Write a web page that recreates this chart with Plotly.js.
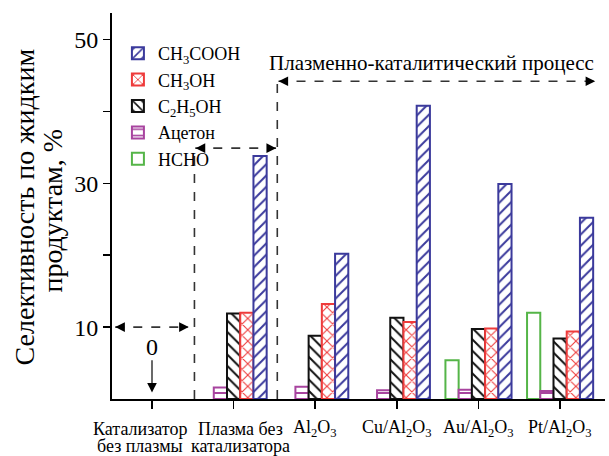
<!DOCTYPE html>
<html><head><meta charset="utf-8">
<script src="https://cdn.plot.ly/plotly-3.0.1.min.js"></script>
<style>html,body{margin:0;padding:0;background:#fff}#chart{width:609px;height:456px}
#chart svg text{font-family:"Liberation Serif","Times New Roman",serif !important}</style>
</head><body><div id="chart"></div>
<script>
const categories = ["Катализатор без плазмы", "Плазма без катализатора", "Al2O3", "Cu/Al2O3", "Au/Al2O3", "Pt/Al2O3"];
const labelLine1 = ["Катализатор", "Плазма без", "Al<sub>2</sub>O<sub>3</sub>", "Cu/Al<sub>2</sub>O<sub>3</sub>", "Au/Al<sub>2</sub>O<sub>3</sub>", "Pt/Al<sub>2</sub>O<sub>3</sub>"];
const labelLine2 = ["без плазмы", "катализатора", "", "", "", ""];
const labelShift = [-12, 7, 0, 0, 0, 0];
const seriesNames = ["HCHO", "Ацетон", "C<sub>2</sub>H<sub>5</sub>OH", "CH<sub>3</sub>OH", "CH<sub>3</sub>COOH"];
const hcho       = [null, null, null, null, 5.4, 12.0];
const acetone    = [null, 1.6, 1.7, 1.2, 1.3, 1.1];
const ethanol    = [null, 11.9, 8.8, 11.3, 9.75, 8.4];
const methanol   = [null, 12.0, 13.2, 10.7, 9.8, 9.4];
const aceticAcid = [null, 33.8, 20.2, 40.8, 29.9, 25.2];
const yTickVals = [10, 20, 30, 40, 50];
const yTickText = ["10", "", "30", "", "50"];
const yTitleLines = ["Селективность по жидким", "продуктам, %"];

const seriesValues = [hcho, acetone, ethanol, methanol, aceticAcid];
const colors = ["#55b548", "#a8449f", "#111111", "#ee3b3b", "#3b3a9c"];
const shapesP = ["", "-", "\\", "x", "/"];

const FONT_FAMILY = "Liberation Serif";

const traces = seriesValues.map((vals, i) => ({
  type: "bar",
  name: seriesNames[i],
  x: categories,
  y: vals,
  marker: {
    color: "white",
    line: {color: colors[i], width: 2},
    pattern: {shape: shapesP[i], fgcolor: colors[i], bgcolor: "white", size: 8, solidity: 0.25}
  }
}));

const dashC = "#333";
function arrowHead(x, y, ax, ay) {
  return {x: x, y: y, xref: "x", yref: "y", ax: ax, ay: ay, axref: "pixel", ayref: "pixel",
    text: "", showarrow: true, arrowhead: 2, arrowsize: 1.2, arrowwidth: 1.6, arrowcolor: "#000"};
}

const labelAnns = [];
categories.forEach((c, i) => {
  labelAnns.push({x: c, y: -0.077, xref: "x", yref: "paper", xshift: labelShift[i], yanchor: "middle",
    text: labelLine1[i], showarrow: false, font: {family: FONT_FAMILY, size: 18, color: "#000"}});
  if (labelLine2[i]) labelAnns.push({x: c, y: -0.123, xref: "x", yref: "paper", xshift: labelShift[i], yanchor: "middle",
    text: labelLine2[i], showarrow: false, font: {family: FONT_FAMILY, size: 18, color: "#000"}});
});
const titleAnns = yTitleLines.map((t, i) => ({
  x: [-0.178, -0.121][i], y: [0.497, 0.489][i], xref: "paper", yref: "paper", xanchor: "center", yanchor: "middle",
  textangle: -90, text: t, showarrow: false, font: {family: FONT_FAMILY, size: 28, color: "#000"}
}));

const layout = {
  width: 609, height: 456,
  margin: {l: 112, r: 4, t: 13, b: 57},
  paper_bgcolor: "white", plot_bgcolor: "white",
  font: {family: FONT_FAMILY, color: "#000"},
  barmode: "group", bargap: 0.19, bargroupgap: 0,
  showlegend: true,
  legend: {x: 0.012, y: 0.943, xanchor: "left", yanchor: "top", traceorder: "reversed",
    font: {family: FONT_FAMILY, size: 18, color: "#000"}, bgcolor: "rgba(0,0,0,0)", tracegroupgap: 0, itemwidth: 30},
  xaxis: {
    type: "category", range: [-0.49, 5.55],
    showline: true, linecolor: "#000", linewidth: 2,
    ticks: "outside", ticklen: 8, tickwidth: 1.5, tickcolor: "#000",
    showticklabels: false,
    showgrid: false, zeroline: false
  },
  yaxis: {
    range: [0, 53.7],
    showline: true, linecolor: "#000", linewidth: 2,
    ticks: "outside", ticklen: 7, tickwidth: 1.5, tickcolor: "#000",
    tickvals: yTickVals, ticktext: yTickText,
    tickfont: {family: FONT_FAMILY, size: 24, color: "#000"},
    showgrid: false, zeroline: false
  },
  shapes: [
    {type: "line", xref: "x", yref: "y", x0: -0.45, x1: 0.44, y0: 10, y1: 10, line: {color: dashC, width: 1.6, dash: "dash"}},
    {type: "line", xref: "x", yref: "y", x0: 0.52, x1: 0.52, y0: 0, y1: 34.9, line: {color: dashC, width: 1.6, dash: "dash"}},
    {type: "line", xref: "x", yref: "y", x0: 0.53, x1: 1.52, y0: 34.9, y1: 34.9, line: {color: dashC, width: 1.6, dash: "dash"}},
    {type: "line", xref: "x", yref: "y", x0: 1.535, x1: 1.535, y0: 0, y1: 44.2, line: {color: dashC, width: 1.6, dash: "dash"}},
    {type: "line", xref: "x", yref: "y", x0: 1.55, x1: 5.42, y0: 44.2, y1: 44.2, line: {color: dashC, width: 1.6, dash: "dash"}},
    {type: "line", xref: "x", yref: "y", x0: 0, x1: 0, y0: 1.6, y1: 5.4, line: {color: "#444", width: 1.6}}
  ],
  annotations: [
    arrowHead(-0.45, 10, 8, 0), arrowHead(0.45, 10, -8, 0),
    arrowHead(0.535, 34.9, 8, 0), arrowHead(1.52, 34.9, -8, 0),
    arrowHead(1.55, 44.2, 8, 0), arrowHead(5.43, 44.2, -8, 0),
    arrowHead(0, 0.9, 0, -8),
    {x: 0, y: 7.3, xref: "x", yref: "y", text: "0", showarrow: false, font: {family: FONT_FAMILY, size: 24, color: "#000"}},
    {x: 3.43, y: 46.8, xref: "x", yref: "y", text: "Плазменно-каталитический процесс", showarrow: false,
      font: {family: FONT_FAMILY, size: 21, color: "#000"}}
  ].concat(labelAnns, titleAnns)
};

Plotly.newPlot("chart", traces, layout, {displayModeBar: false, staticPlot: true});
</script>
</body></html>
